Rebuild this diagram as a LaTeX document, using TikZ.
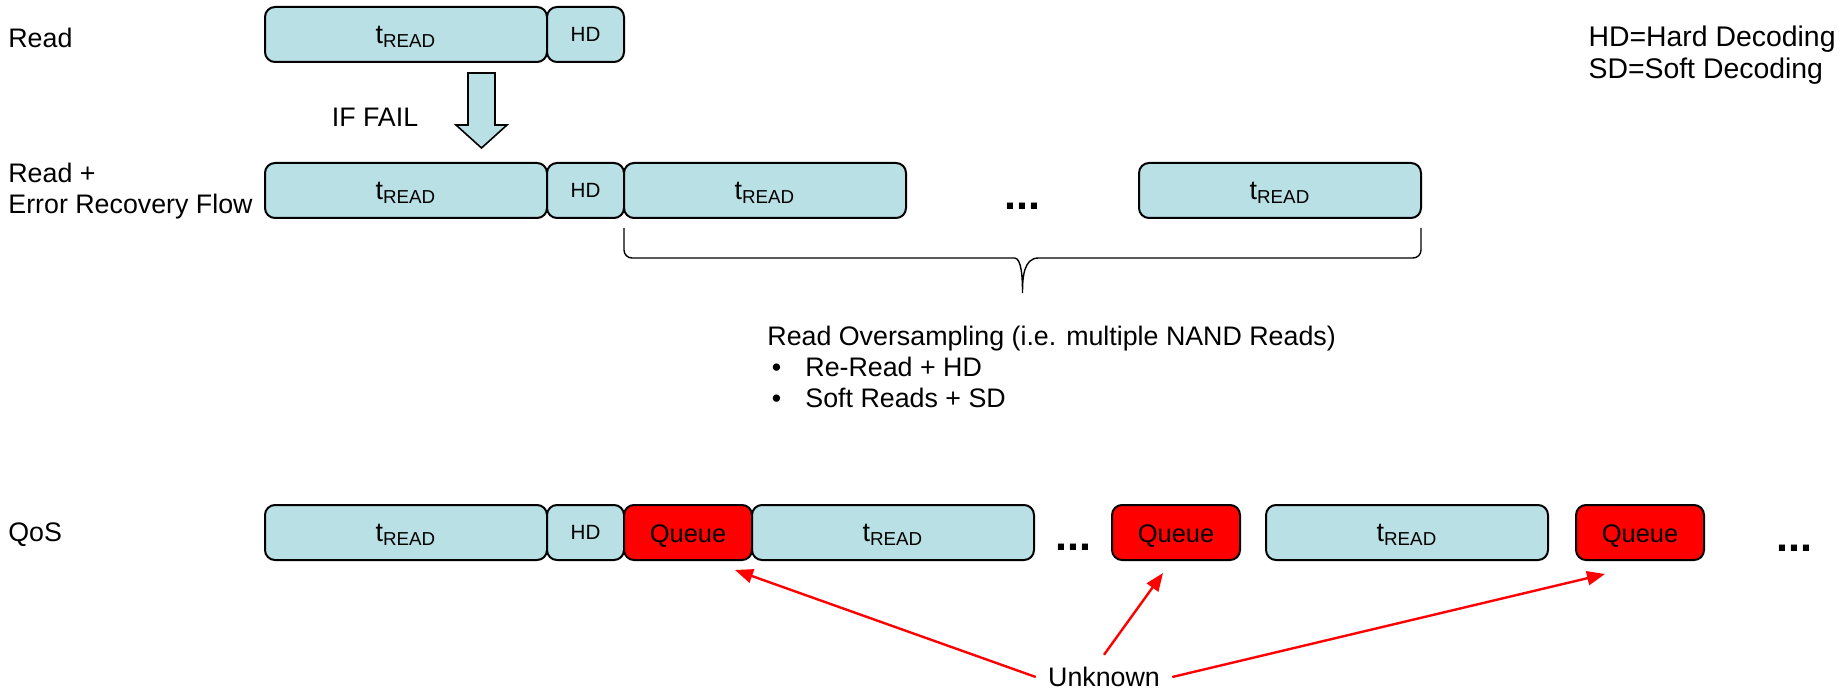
\documentclass[tikz,border=0pt]{standalone}
\usepackage{fontspec}
\setmainfont{Liberation Sans}
\usetikzlibrary{positioning, calc, arrows.meta}
\definecolor{readblue}{RGB}{185,224,228}
\newcommand{\tRead}{t\textsubscript{READ}}
\tikzset{
slot/.style={draw, line width=1pt, rounded corners=5pt, fill=readblue, minimum height=27.5pt, inner sep=0pt, outer sep=0pt}, % one step on the time line
tread/.style={slot, minimum width=141pt, text depth=0pt},
hd/.style={slot, minimum width=38.5pt, font=\fontsize{10.3pt}{12pt}\selectfont},
queue/.style={slot, fill=red, minimum width=64pt, text height=10pt, text depth=0pt, font=\fontsize{12.7pt}{14pt}\selectfont},
lbl/.style={inner sep=0pt, anchor=west, align=left},
dots/.style={inner sep=0pt, font=\fontsize{21.5pt}{22pt}\selectfont\bfseries},
unknown/.style={red, line width=1.2pt, -{Triangle[length=9pt,width=7pt]}},
}

\begin{document}
\begin{tikzpicture}[x=0.5pt, y=-0.5pt, font=\fontsize{13.4pt}{15.5pt}\selectfont]
    \useasboundingbox (0,0) rectangle (1845,689);

    % row labels
    \node[lbl] (lread) at (8,38) {Read};
    \node[lbl] (lerr) at (8,191) {Read +\\Error Recovery Flow};
    \node[lbl] (lqos) at (8,535) {QoS};
    \node[lbl, anchor=east, font=\fontsize{14.2pt}{16pt}\selectfont] (legend) at (1836,55) {HD=Hard Decoding\\SD=Soft Decoding};

    % plain read
    \node[tread] (rd) at (406,34.5) {\tRead};
    \node[hd, right=0pt of rd] (rdhd) {HD};

    % fall through to recovery
    \draw[line width=0.8pt, fill=readblue] (468,73) -- (495,73) -- (495,125) -- (507,125)
        -- (481.5,148) -- (456,125) -- (468,125) -- cycle;
    \node[inner sep=0pt] (fail) at (375,117) {IF FAIL};

    % read + error recovery
    \node[tread] (er) at (406,190.5) {\tRead};
    \node[hd, right=0pt of er] (erhd) {HD};
    \node[tread, right=0pt of erhd] (er1) {\tRead};
    \node[tread, right=116.5pt of er1] (er2) {\tRead};
    \node[dots] (erdots) at ($(er1.east)!0.5!(er2.west)+(0,16)$) {...};

    % brace under the re-reads
    \coordinate (bl) at ([yshift=-5pt]er1.south west);
    \coordinate (br) at ([yshift=-5pt]er2.south east);
    \coordinate (bm) at ($(bl)!0.5!(br)+(0,30)$);
    \coordinate (btip) at ($(bm)+(0,35)$);
    \draw[line width=0.7pt] (bl) [rounded corners=4pt] |- ($(bm)+(-16,0)$) [sharp corners]
        to[out=0,in=90] (btip) to[out=90,in=180] ($(bm)+(16,0)$) [rounded corners=4pt] -| (br);

    \node[lbl, anchor=north west] (oversampling) at (767,326) {Read Oversampling (i.e. multiple NAND Reads)\\
        \makebox[19pt][l]{\,\textbullet}Re-Read + HD\\
        \makebox[19pt][l]{\,\textbullet}Soft Reads + SD};

    % QoS
    \node[tread] (q) at (406,532.5) {\tRead};
    \node[hd, right=0pt of q] (qhd) {HD};
    \node[queue, right=0pt of qhd] (qa) {Queue};
    \node[tread, right=0pt of qa] (q1) {\tRead};
    \node[queue, right=39pt of q1] (qb) {Queue};
    \node[tread, right=13pt of qb] (q2) {\tRead};
    \node[queue, right=14pt of q2] (qc) {Queue};
    \node[dots] (qdots1) at ($(q1.east)!0.5!(qb.west)+(0,15)$) {...};
    \node[dots, right=36pt of qc, yshift=-8pt] (qdots2) {...};

    \node[inner sep=6pt] (unk) at (1104,677) {Unknown};
    \coordinate (ta) at ([xshift=23.5pt,yshift=-5pt]qa.south);
    \coordinate (tb) at ([xshift=-6.5pt,yshift=-6.5pt]qb.south);
    \coordinate (tc) at ([xshift=-17.5pt,yshift=-7pt]qc.south);
    \draw[unknown] (unk.west) -- (ta);
    \draw[unknown] (unk.north) -- (tb);
    \draw[unknown] (unk.east) -- (tc);
\end{tikzpicture}
\end{document}
